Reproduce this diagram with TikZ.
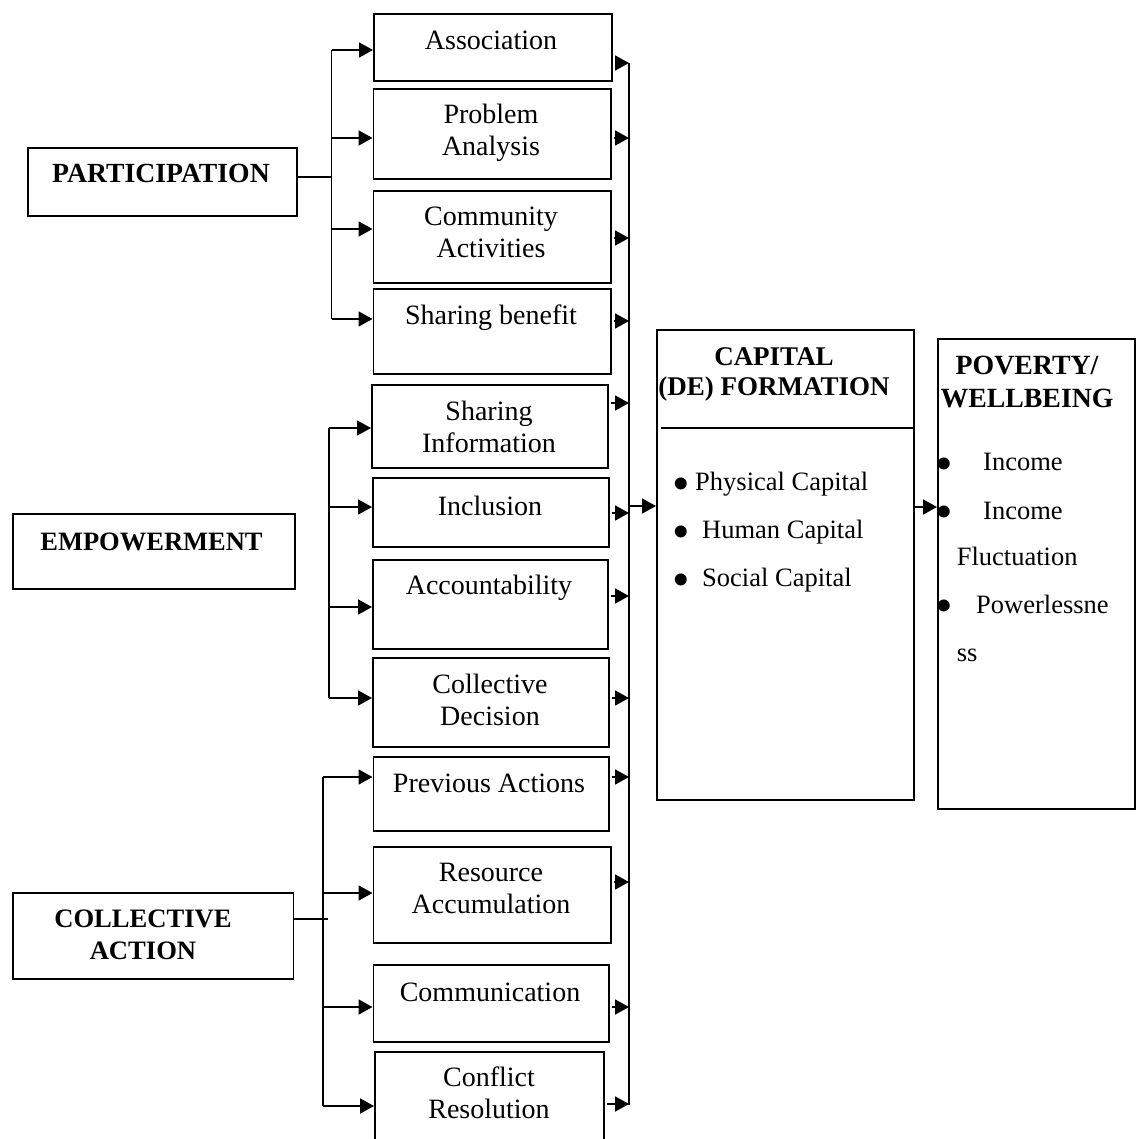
\documentclass[tikz,border=0pt]{standalone}
\usepackage{fontspec}
\setmainfont{Liberation Serif}
\usetikzlibrary{arrows.meta}
\newcommand\mybul[1]{\makebox[0pt]{\raisebox{#1}{\fontsize{50}{50}\selectfont •}}}
\begin{document}
\begin{tikzpicture}[x=1pt,y=-1pt,
  box/.style={draw, line width=1.9pt, anchor=north west, inner sep=0pt},
  txt/.style={inner sep=0pt, anchor=base, align=center, font=\fontsize{28}{32}\selectfont},
  hd/.style={inner sep=0pt, anchor=base, align=center, font=\fontsize{#1}{32}\selectfont\bfseries},
  lt/.style={inner sep=0pt, anchor=base west, font=\fontsize{26.5}{32}\selectfont},
  conn/.style={line width=1.8pt},
  arr/.style={conn, -{Triangle[length=14pt,width=15pt]}},
]
\useasboundingbox (0,0) rectangle (1136,1139);
\clip (0,0) rectangle (1136,1139);

% left group boxes
\node[box, minimum width=269.3pt, minimum height=68pt] (part) at (26.7,147) {};
\node[box, minimum width=282pt, minimum height=75pt] (emp) at (12.3,513) {};
\node[box, minimum width=280.5pt, minimum height=86pt] (coll) at (12,892) {};

% middle boxes
\node[box, minimum width=238pt, minimum height=67.3pt] (assoc) at (373,12.7) {};
\node[box, minimum width=237.5pt, minimum height=90pt] (prob) at (372.5,88) {};
\node[box, minimum width=237.5pt, minimum height=92pt] (comm) at (372.5,190) {};
\node[box, minimum width=237.5pt, minimum height=85pt] (share) at (372.5,288) {};
\node[box, minimum width=236pt, minimum height=83pt] (shinfo) at (371,384) {};
\node[box, minimum width=236pt, minimum height=69pt] (incl) at (372,477) {};
\node[box, minimum width=235pt, minimum height=89pt] (acct) at (372,559) {};
\node[box, minimum width=236pt, minimum height=89pt] (cdec) at (372,657) {};
\node[box, minimum width=235.5pt, minimum height=74pt] (prev) at (372.5,756) {};
\node[box, minimum width=237.5pt, minimum height=96pt] (res) at (372.5,846) {};
\node[box, minimum width=235.5pt, minimum height=77pt] (commn) at (372.5,964) {};
\node[box, minimum width=229pt, minimum height=110pt] (confl) at (374,1051) {};

% right boxes
\node[box, minimum width=257pt, minimum height=470pt] (cap) at (656,329) {};
\node[box, minimum width=197pt, minimum height=470pt] (pov) at (937,338) {};
\draw[conn] (661,428) -- (cap.east |- 0,428);

% texts
\node[hd=27.7] (tpart) at (161,183) {PARTICIPATION};
\node[hd=26.5] (temp) at (151.5,550) {EMPOWERMENT};
\node[hd=26.6] (tcoll) at (143,959) {COLLECTIVE\\ACTION};
\node[txt] (tassoc) at (491,50) {Association};
\node[txt] (tprob) at (491,156) {Problem\\Analysis};
\node[txt] (tcomm) at (491,258) {Community\\Activities};
\node[txt] (tshare) at (491,324) {Sharing benefit};
\node[txt] (tshinfo) at (489,452) {Sharing\\Information};
\node[txt] (tincl) at (490,515) {Inclusion};
\node[txt] (tacct) at (489,594) {Accountability};
\node[txt] (tcdec) at (490,725) {Collective\\Decision};
\node[txt] (tprev) at (489,792) {Previous Actions};
\node[txt] (tres) at (491,913) {Resource\\Accumulation};
\node[txt] (tcommn) at (490,1001) {Communication};
\node[txt] (tconfl) at (489,1118) {Conflict\\Resolution};
\node[hd=27] (tcap) at (774,395) {CAPITAL\\[-2pt](DE) FORMATION};
\node[hd=27.8] (tpov) at (1027,407) {POVERTY/\\[1pt]WELLBEING};
\node[lt] (c1) at (681.5,490) {\mybul{-10pt}\hspace{13.5pt}Physical Capital};
\node[lt] (c2) at (681.5,538.3) {\mybul{-10pt}\hspace{20.5pt}Human Capital};
\node[lt] (c3) at (681.5,586.7) {\mybul{-10pt}\hspace{20.5pt}Social Capital};
\node[lt] (p1) at (944.3,470.7) {\mybul{-9.3pt}\hspace{38.7pt}Income};
\node[lt] (p2) at (944.3,519) {\mybul{-9.3pt}\hspace{38.7pt}Income};
\node[lt] (p3) at (956.6,565) {Fluctuation};
\node[lt] (p4) at (944.3,613.3) {\mybul{-9.3pt}\hspace{31.7pt}Powerlessne};
\node[lt] (p5) at (956.6,661.7) {ss};

% participation bracket
\coordinate (pv) at (331.5,0);
\draw[conn] (part.east |- 0,177) -- (pv |- 0,177);
\draw[conn] (pv |- 0,50) -- (pv |- 0,319);
\foreach \y/\t in {50/assoc,138/prob,229/comm,319/share}
  \draw[arr] (pv |- 0,\y) -- (\t.west |- 0,\y);

% empowerment bracket
\coordinate (ev) at (329,0);
\draw[conn] (ev |- 0,428) -- (ev |- 0,698);
\foreach \y/\t in {428/shinfo,507/incl,607/acct,698/cdec}
  \draw[arr] (ev |- 0,\y) -- (\t.west |- 0,\y);

% collective action bracket
\coordinate (cv) at (323,0);
\draw[conn] (coll.east |- 0,919) -- ([xshift=5pt]cv |- 0,919);
\draw[conn] (cv |- 0,777) -- (cv |- 0,1106);
\foreach \y/\t in {777/prev,893/res,1007/commn,1106/confl}
  \draw[arr] (cv |- 0,\y) -- (\t.west |- 0,\y);

% right bus
\coordinate (bus) at (629,0);
\draw[conn] (bus |- 0,63) -- (bus |- 0,1105);
\foreach \y/\s in {63/assoc,138/prob,238/comm,321/share,403/shinfo,513/incl,596/acct,698/cdec,777/prev,882/res,1007/commn,1104/confl}
  \draw[arr] ([xshift=2pt]\s.east |- 0,\y) -- (bus |- 0,\y);
\draw[arr] (bus |- 0,506) -- (cap.west |- 0,506);
\draw[arr] (cap.east |- 0,507) -- (pov.west |- 0,507);
\end{tikzpicture}
\end{document}
